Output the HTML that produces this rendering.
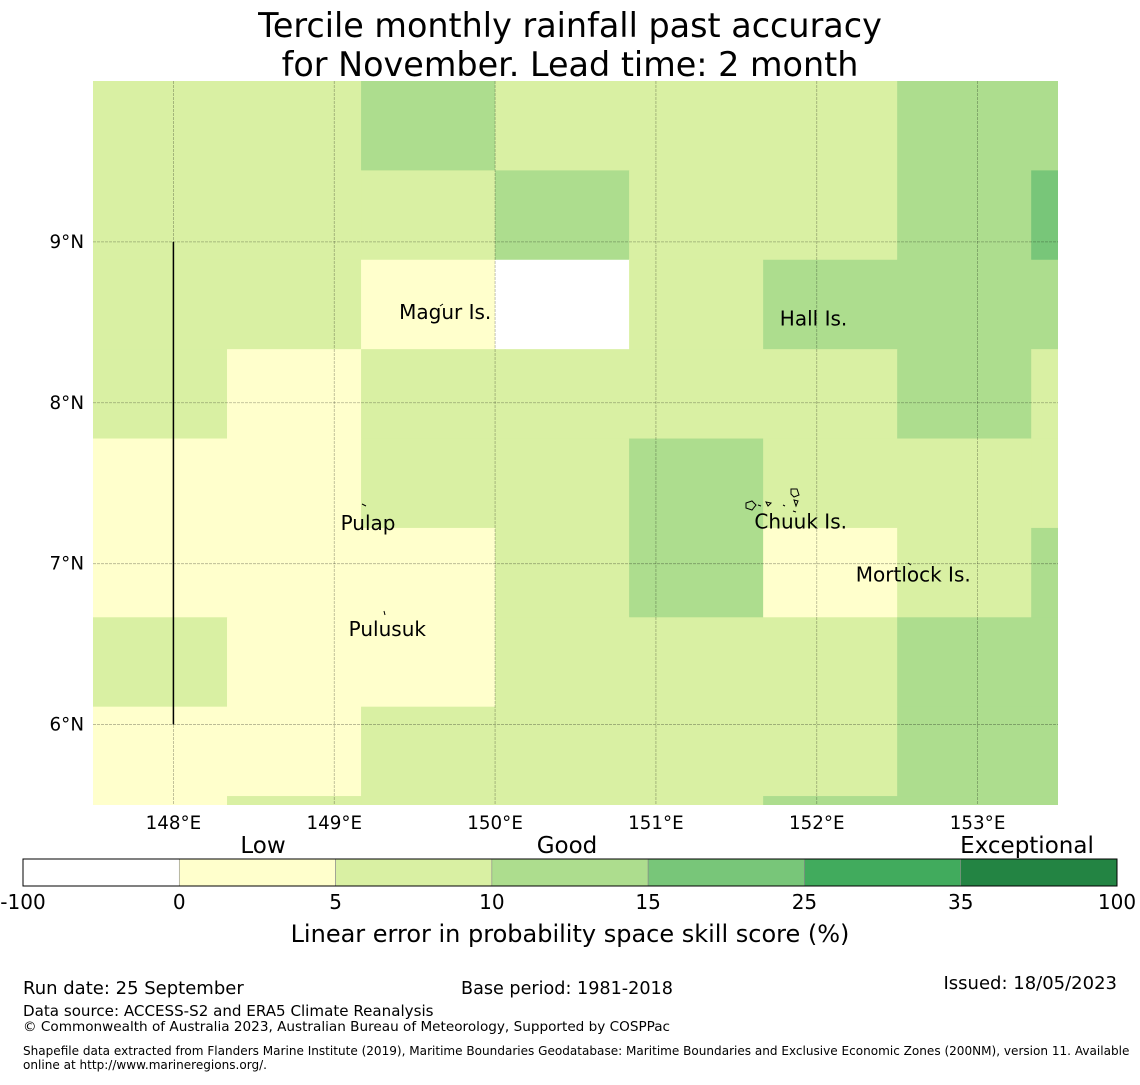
<!DOCTYPE html>
<html><head><meta charset="utf-8">
<style>
body{margin:0;background:#fff;font-family:"Liberation Sans","DejaVu Sans",sans-serif;}
svg text{font-family:"DejaVu Sans","Liberation Sans",sans-serif;}
</style></head>
<body>
<svg id="chart" width="1140" height="1080" xmlns="http://www.w3.org/2000/svg">
<text x="570" y="37" font-size="33.4" text-anchor="middle">Tercile monthly rainfall past accuracy</text>
<text x="570" y="76" font-size="33.4" text-anchor="middle">for November. Lead time: 2 month</text>
<g id="cells"></g>
<g id="grid"></g>
<g fill="none" stroke="#000" stroke-width="1">
<path d="M791,489 l6,0 l2,6 l-5,2 l-3,-3 z M746,503 l6,-2 l4,4 l-4,5 l-6,-2 z M766,502 l5,1 l-3,3 z M794,500 l4,1 l-2,5 z M758,505 l3,1 M783,505 l2,1 M793,511 l3,1 M362,504 l4,2 M440,306 l3,-2 M384,611 l1,4 M908,563 l3,2"/>
</g>
<g id="labels"></g>
<g id="cbar"></g>
<text x="23" y="994" font-size="18">Run date: 25 September</text>
<text x="461" y="994" font-size="17.6">Base period: 1981-2018</text>
<text x="1117" y="989" font-size="18" text-anchor="end">Issued: 18/05/2023</text>
<text x="23" y="1016" font-size="15.1">Data source: ACCESS-S2 and ERA5 Climate Reanalysis</text>
<text x="23" y="1031" font-size="13.6">© Commonwealth of Australia 2023, Australian Bureau of Meteorology, Supported by COSPPac</text>
<text x="23" y="1055" font-size="12.05">Shapefile data extracted from Flanders Marine Institute (2019), Maritime Boundaries Geodatabase: Maritime Boundaries and Exclusive Economic Zones (200NM), version 11. Available</text>
<text x="23" y="1069" font-size="12.05">online at http://www.marineregions.org/.</text>
</svg>
<script>
const lonEdges=[147.5,148.3333,149.1667,150,150.8333,151.6667,152.5,153.3333,153.5];
const latEdges=[10,9.4444,8.8889,8.3333,7.7778,7.2222,6.6667,6.1111,5.5556,5.5];
const skill=[
[7,7,12,7,7,7,12,12],
[7,7,7,12,7,7,12,20],
[7,7,2,-5,7,12,12,12],
[7,2,7,7,7,7,12,7],
[2,2,7,7,12,7,7,7],
[2,2,2,7,12,2,7,12],
[7,2,2,7,7,7,12,12],
[2,2,7,7,7,7,12,12],
[2,7,7,7,7,12,12,12]];
const binEdges=[-100,0,5,10,15,25,35,100];
const binColors=["#ffffff","#ffffcc","#d9f0a3","#addd8e","#78c679","#41ab5d","#238443"];
const binLabels=["-100","0","5","10","15","25","35","100"];
const lonTicks=[148,149,150,151,152,153];
const latTicks=[9,8,7,6];
const places=[["Magur Is.",149.69,8.52],["Hall Is.",151.98,8.48],["Pulap",149.21,7.21],["Chuuk Is.",151.9,7.22],["Mortlock Is.",152.6,6.89],["Pulusuk",149.33,6.55]];
const NS="http://www.w3.org/2000/svg";
const X0=93,X1=1058,Y0=81,Y1=805;
const lonMin=147.5,lonMax=153.5,latMin=5.5,latMax=10;
const sx=v=>X0+(v-lonMin)/(lonMax-lonMin)*(X1-X0);
const sy=v=>Y0+(latMax-v)/(latMax-latMin)*(Y1-Y0);
function colorFor(v){for(let i=0;i<binColors.length;i++){if(v<binEdges[i+1])return binColors[i];}return binColors[binColors.length-1];}
function mk(tag,attrs,parent){const e=document.createElementNS(NS,tag);for(const k in attrs)e.setAttribute(k,attrs[k]);parent.appendChild(e);return e;}
const cells=document.getElementById('cells');
for(let r=0;r<skill.length;r++)for(let c=0;c<skill[r].length;c++){
 const x=sx(lonEdges[c]),y=sy(latEdges[r]);
 const x2=Math.min(X1,sx(lonEdges[c+1])+0.5);
 const y2=Math.min(Y1,sy(latEdges[r+1])+0.5);
 const e=mk('rect',{x:x,y:y,width:x2-x,height:y2-y,fill:colorFor(skill[r][c])},cells);
 
 
}
const grid=document.getElementById('grid');
lonTicks.forEach(l=>{
 const e=mk('line',{x1:sx(l),x2:sx(l),y1:Y0,y2:Y1,stroke:'#000','stroke-opacity':0.3,'stroke-width':0.8,'stroke-dasharray':'3,1'},grid);
 
 
 const t=mk('text',{x:sx(l),y:829,'font-size':18.3,'text-anchor':'middle'},grid);t.textContent=l+'°E';
 
 
});
latTicks.forEach(l=>{
 const e=mk('line',{x1:X0,x2:X1,y1:sy(l),y2:sy(l),stroke:'#000','stroke-opacity':0.3,'stroke-width':0.8,'stroke-dasharray':'3,1'},grid);
 
 
 const t=mk('text',{x:84,y:sy(l)+6,'font-size':18.3,'text-anchor':'end'},grid);t.textContent=l+'°N';
 
 
});
const bl=mk('line',{x1:sx(148),x2:sx(148),y1:sy(9),y2:sy(6),stroke:'#000','stroke-width':1.5},grid);


const lab=document.getElementById('labels');
places.forEach(p=>{
 const t=mk('text',{x:sx(p[1]),y:sy(p[2]),'font-size':20,'text-anchor':'middle'},lab);t.textContent=p[0];
 
 
});
const cb=document.getElementById('cbar');
const CX0=23,CX1=1117,CY=859,CH=27,n=binColors.length,w=(CX1-CX0)/n;
for(let i=0;i<n;i++){
 const e=mk('rect',{x:CX0+i*w,y:CY,width:w,height:CH,fill:binColors[i],stroke:'#888','stroke-width':0.6},cb);
 
 
}
mk('rect',{x:CX0,y:CY,width:CX1-CX0,height:CH,fill:'none',stroke:'#000','stroke-width':1},cb);
binLabels.forEach((s,i)=>{
 const t=mk('text',{x:CX0+i*w,y:909,'font-size':20,'text-anchor':'middle'},cb);t.textContent=s;
 
 
});
[["Low",263],["Good",567],["Exceptional",1027]].forEach(a=>{
 const t=mk('text',{x:a[1],y:853,'font-size':23,'text-anchor':'middle'},cb);t.textContent=a[0];
 
 
});
const ct=mk('text',{x:570,y:942,'font-size':24,'text-anchor':'middle'},cb);ct.textContent='Linear error in probability space skill score (%)';


</script>
</body></html>
